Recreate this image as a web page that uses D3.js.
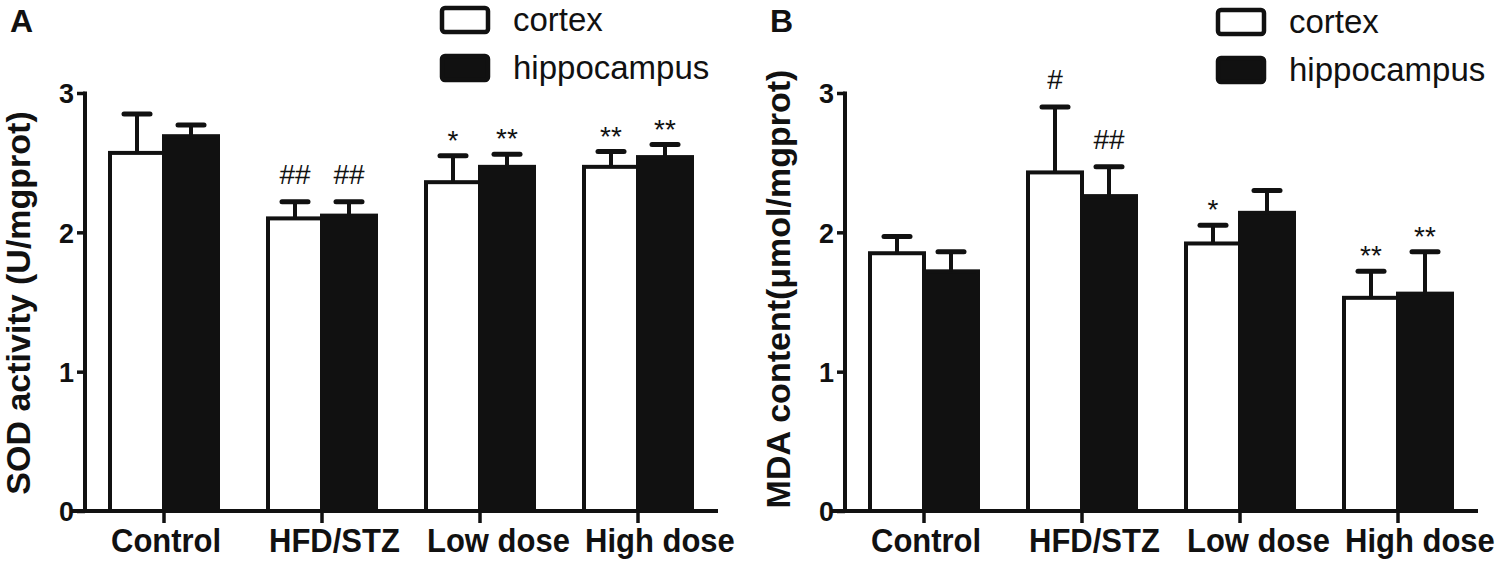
<!DOCTYPE html>
<html>
<head>
<meta charset="utf-8">
<script src="https://cdn.jsdelivr.net/npm/d3@7"></script>
<style>
  html, body { margin: 0; padding: 0; background: #fff; }
  svg { display: block; }
  text { font-family: "Liberation Sans", Arial, sans-serif; fill: #111; }
</style>
</head>
<body>
<div id="chart"></div>
<script>
// Oxidative stress markers - SOD activity (A) and MDA content (B)

const categories = ['Control', 'HFD/STZ', 'Low dose', 'High dose'];
const seriesNames = ['cortex', 'hippocampus'];
const yTicks = [0, 1, 2, 3];

// Panel A - SOD activity (U/mgprot)
const sodCortex = [2.57, 2.10, 2.36, 2.47];
const sodCortexErr = [0.28, 0.12, 0.19, 0.11];
const sodHippo = [2.69, 2.12, 2.47, 2.54];
const sodHippoErr = [0.08, 0.10, 0.09, 0.09];
const sodCortexMarks = ['', '##', '*', '**'];
const sodHippoMarks = ['', '##', '**', '**'];

// Panel B - MDA content (umol/mgprot)
const mdaCortex = [1.85, 2.43, 1.92, 1.53];
const mdaCortexErr = [0.12, 0.47, 0.13, 0.19];
const mdaHippo = [1.72, 2.26, 2.14, 1.56];
const mdaHippoErr = [0.14, 0.21, 0.16, 0.30];
const mdaCortexMarks = ['', '#', '*', '**'];
const mdaHippoMarks = ['', '##', '', '**'];

const width = 1500;
const height = 566;
const INK = '#111';

const svg = d3.select('#chart')
    .append('svg')
    .attr('width', width)
    .attr('height', height);

function drawPanel(opts) {
    const g = svg.append('g').attr('transform', `translate(${opts.dx},0)`);

    const left = 85, right = 717, top = 93, bottom = 511;

    const x0 = d3.scaleBand()
        .domain(categories)
        .range([left, right])
        .padding(0);

    const groupWidth = 108;
    const x1 = d3.scaleBand()
        .domain(seriesNames)
        .range([(x0.bandwidth() - groupWidth) / 2, (x0.bandwidth() + groupWidth) / 2]);

    const y = d3.scaleLinear()
        .domain([0, 3])
        .range([bottom, top]);

    // build rows from the named arrays
    const rows = [];
    categories.forEach((c, i) => {
        rows.push({ cat: c, series: 'cortex', value: opts.cortex[i], err: opts.cortexErr[i], mark: opts.cortexMarks[i] });
        rows.push({ cat: c, series: 'hippocampus', value: opts.hippo[i], err: opts.hippoErr[i], mark: opts.hippoMarks[i] });
    });

    // bars
    g.selectAll('.bar')
        .data(rows)
        .enter()
        .append('rect')
        .attr('class', 'bar')
        .attr('x', d => x0(d.cat) + x1(d.series))
        .attr('y', d => y(d.value))
        .attr('width', x1.bandwidth())
        .attr('height', d => y(0) - y(d.value))
        .attr('fill', d => d.series === 'cortex' ? '#fff' : INK)
        .attr('stroke', INK)
        .attr('stroke-width', 4);

    // error bars (upper only)
    const cx = d => x0(d.cat) + x1(d.series) + x1.bandwidth() / 2;
    g.selectAll('.err')
        .data(rows)
        .enter()
        .append('line')
        .attr('x1', cx)
        .attr('x2', cx)
        .attr('y1', d => y(d.value))
        .attr('y2', d => y(d.value + d.err))
        .attr('stroke', INK)
        .attr('stroke-width', 4);

    g.selectAll('.cap')
        .data(rows)
        .enter()
        .append('line')
        .attr('x1', d => cx(d) - 13)
        .attr('x2', d => cx(d) + 13)
        .attr('y1', d => y(d.value + d.err))
        .attr('y2', d => y(d.value + d.err))
        .attr('stroke', INK)
        .attr('stroke-width', 5)
        .attr('stroke-linecap', 'round');

    // significance marks
    g.selectAll('.mark')
        .data(rows.filter(d => d.mark))
        .enter()
        .append('text')
        .attr('x', cx)
        .attr('y', d => y(d.value + d.err) - (d.mark[0] === '#' ? 18 : 6))
        .attr('text-anchor', 'middle')
        .attr('font-size', 28)
        .text(d => d.mark);

    // y axis
    const yAxis = d3.axisLeft(y)
        .tickValues(yTicks)
        .tickFormat(d3.format('d'))
        .tickSize(8)
        .tickPadding(3);
    const ya = g.append('g')
        .attr('transform', `translate(${left},0)`)
        .call(yAxis);
    ya.select('.domain').remove();
    ya.append('line')
        .attr('y1', top - 1.5)
        .attr('y2', bottom)
        .attr('stroke', INK)
        .attr('stroke-width', 4);
    ya.selectAll('.tick line').attr('stroke', INK).attr('stroke-width', 3.5);
    ya.selectAll('.tick text')
        .attr('font-size', 27)
        .attr('font-weight', 'bold')
        .attr('dy', '0.36em')
        .style('font-family', '"Liberation Sans", Arial, sans-serif')
        .attr('fill', INK);

    // x axis - labels start at the left edge of each bar group
    const xAxis = d3.axisBottom(x0)
        .tickSize(12);
    const xa = g.append('g')
        .attr('transform', `translate(0,${bottom})`)
        .call(xAxis);
    xa.select('.domain').remove();
    xa.append('line')
        .attr('x1', left - 13)
        .attr('x2', right + 1)
        .attr('stroke', INK)
        .attr('stroke-width', 4);
    xa.selectAll('.tick line').attr('stroke', INK).attr('stroke-width', 3.5);
    xa.selectAll('.tick text')
        .attr('x', null)
        .attr('y', null)
        .attr('dy', null)
        .attr('transform', `translate(${-groupWidth / 2 + 1},41) scale(1,1.1)`)
        .attr('text-anchor', 'start')
        .attr('font-size', 31)
        .attr('font-weight', 'bold')
        .style('font-family', '"Liberation Sans", Arial, sans-serif')
        .attr('fill', INK);

    // y title
    g.append('text')
        .attr('transform', `translate(${opts.titleX},${opts.titleY}) rotate(-90)`)
        .attr('text-anchor', 'middle')
        .attr('font-size', 34)
        .attr('font-weight', 'bold')
        .text(opts.title);

    // panel letter
    g.append('text')
        .attr('x', 10)
        .attr('y', 32)
        .attr('font-size', 32)
        .attr('font-weight', 'bold')
        .text(opts.letter);

    // legend
    const lg = g.append('g').attr('transform', `translate(${opts.legendX},${opts.legendY})`);
    seriesNames.forEach((s, i) => {
        lg.append('rect')
            .attr('x', 0)
            .attr('y', i * 48)
            .attr('width', 46)
            .attr('height', 24)
            .attr('rx', 3)
            .attr('fill', s === 'cortex' ? '#fff' : INK)
            .attr('stroke', INK)
            .attr('stroke-width', 4.5);
        lg.append('text')
            .attr('x', 71)
            .attr('y', i * 48 + 23)
            .attr('font-size', 33)
            .text(s);
    });
}

drawPanel({
    dx: 0, letter: 'A',
    cortex: sodCortex, cortexErr: sodCortexErr, cortexMarks: sodCortexMarks,
    hippo: sodHippo, hippoErr: sodHippoErr, hippoMarks: sodHippoMarks,
    title: 'SOD activity (U/mgprot)', titleX: 30, titleY: 303,
    legendX: 442, legendY: 8
});

drawPanel({
    dx: 760, letter: 'B',
    cortex: mdaCortex, cortexErr: mdaCortexErr, cortexMarks: mdaCortexMarks,
    hippo: mdaHippo, hippoErr: mdaHippoErr, hippoMarks: mdaHippoMarks,
    title: 'MDA content(\u03bcmol/mgprot)', titleX: 30, titleY: 289,
    legendX: 458, legendY: 10
});
</script>
</body>
</html>
